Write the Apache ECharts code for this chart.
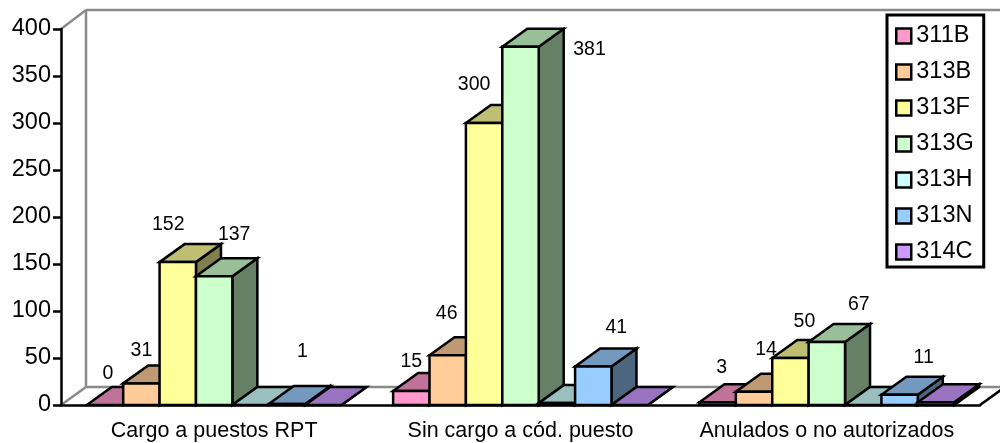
<!DOCTYPE html>
<html>
<head>
<meta charset="utf-8">
<style>html,body{margin:0;padding:0;background:#fff}#c{width:1000px;height:443px}</style>
<script src="https://cdn.jsdelivr.net/npm/echarts@6/dist/echarts.min.js"></script>
</head>
<body>
<div id="c"></div>
<script>
var categories = ['Cargo a puestos RPT', 'Sin cargo a cód. puesto', 'Anulados o no autorizados'];
// Bar heights as drawn in the picture
var s311B = [0, 15, 3];
var s313B = [23, 53, 14];
var s313F = [152, 300, 50];
var s313G = [137, 381, 67];
var s313H = [0, 2, 0];
var s313N = [1, 41, 11];
var s314C = [0, 0, 3];
// Data labels as printed in the picture ('' = none printed)
var l311B = ['0', '15', '3'];
var l313B = ['31', '46', '14'];
var l313F = ['152', '300', '50'];
var l313G = ['137', '381', '67'];
var l313H = ['', '', ''];
var l313N = ['1', '41', '11'];
var l314C = ['', '', ''];
var seriesNames = ['311B', '313B', '313F', '313G', '313H', '313N', '314C'];
var seriesValues = [s311B, s313B, s313F, s313G, s313H, s313N, s314C];
var seriesLabels = [l311B, l313B, l313F, l313G, l313H, l313N, l314C];
var seriesColors = [[255,153,204],[255,204,153],[255,255,153],[204,255,204],[204,255,255],[153,204,255],[204,153,255]];

// Style only: where the original chart nudged each data label, from the bar's top-front centre
var labelNudges = [
  [[3,-31],[0,-29],[4,-35]],
  [[0,-33],[-1,-42],[12,-42]],
  [[-9.5,-37],[-10,-38],[14,-36]],
  [[20,-42],[69,3],[32,-37]],
  [[0,0],[0,0],[0,0]],
  [[15.5,-52],[23,-39],[24,-37]],
  [[0,0],[0,0],[0,0]]
];

var DX = 25, DY = -18, BAND_FRACTION = 0.1188, LW = 2.5;
var FONT = '"Liberation Sans", Arial, sans-serif';

function shade(c, f) {
  return 'rgb(' + c.map(function (v) { return Math.round(v * f); }).join(',') + ')';
}
function poly(points, fill) {
  return {type: 'polygon', shape: {points: points},
    style: {fill: fill, stroke: '#000', lineWidth: LW, lineJoin: 'miter'}};
}
function line(x1, y1, x2, y2, color) {
  return {type: 'line', shape: {x1: x1, y1: y1, x2: x2, y2: y2},
    style: {stroke: color, lineWidth: LW, fill: null}};
}

function renderWalls(params) {
  var c = params.coordSys;
  var L = c.x, T = c.y, R = c.x + c.width, B = c.y + c.height;
  var G = '#8a8a8a';
  return {type: 'group', silent: true, children: [
    line(L, T, L + DX, T + DY - 1, G),
    line(L + DX, T + DY - 1, 1000, T + DY - 1, G),
    line(L + DX, T + DY - 1, L + DX, B + DY, G),
    line(L, B, L + DX, B + DY, G),
    line(L + DX, B + DY, 1000, B + DY, G),
    line(R, B, R + DX, B + DY, '#000')
  ]};
}

function makeBarRenderer(si) {
  return function (params, api) {
    var cat = api.value(0), val = api.value(1);
    var band = api.size([1, 0])[0];
    var w = band * BAND_FRACTION;
    var centre = api.coord([cat, 0])[0];
    var x0 = centre + (si - 3.5) * w;
    var x1 = x0 + w;
    var yb = api.coord([cat, 0])[1];
    var yt = api.coord([cat, val])[1];
    var col = seriesColors[si];
    var kids = [];
    kids.push(poly([[x1, yb], [x1 + DX, yb + DY], [x1 + DX, yt + DY], [x1, yt]], shade(col, 0.5)));
    kids.push(poly([[x0, yt], [x0 + DX, yt + DY], [x1 + DX, yt + DY], [x1, yt]], shade(col, 0.75)));
    if (val > 0) kids.push(poly([[x0, yb], [x1, yb], [x1, yt], [x0, yt]], shade(col, 1)));
    var text = seriesLabels[si][cat], n = labelNudges[si][cat];
    if (text) {
      kids.push({type: 'text', z2: 100, style: {
        x: (x0 + x1) / 2 + n[0], y: yt + n[1], text: text,
        fill: '#000', font: '19.5px ' + FONT, textAlign: 'center', textVerticalAlign: 'middle'
      }});
    }
    return {type: 'group', children: kids};
  };
}

var series = [{
  type: 'custom', name: 'walls', silent: true, z: 1,
  data: [[0, 0]], encode: {x: 0, y: 1}, renderItem: renderWalls
}];
seriesNames.forEach(function (name, si) {
  series.push({
    type: 'custom', name: name, z: 3 + si,
    itemStyle: {color: shade(seriesColors[si], 1)},
    encode: {x: 0, y: 1},
    data: seriesValues[si].map(function (v, i) { return [i, v]; }),
    renderItem: makeBarRenderer(si)
  });
});

var chart = echarts.init(document.getElementById('c'), null, {renderer: 'canvas'});
chart.setOption({
  animation: false,
  backgroundColor: '#fff',
  grid: {left: 61, top: 29, right: 20, bottom: 38, containLabel: false},
  xAxis: {
    type: 'category', data: categories, z: 2,
    axisLine: {lineStyle: {color: '#000', width: LW}},
    axisTick: {length: 7, lineStyle: {color: '#000', width: LW}},
    axisLabel: {color: '#000', fontSize: 21.5, fontFamily: FONT, margin: 15, interval: 0}
  },
  yAxis: {
    type: 'value', min: 0, max: 400, interval: 50, z: 2,
    axisLine: {show: true, lineStyle: {color: '#000', width: LW}},
    axisTick: {show: true, length: 8, lineStyle: {color: '#000', width: LW}},
    axisLabel: {color: '#000', fontSize: 23.5, fontFamily: FONT, margin: 10},
    splitLine: {show: false}
  },
  legend: {
    show: true, orient: 'vertical', left: 887, top: 15, width: 96,
    data: seriesNames,
    backgroundColor: '#fff', borderColor: '#000', borderWidth: 3,
    padding: [8, 10, 2, 8],
    itemWidth: 15, itemHeight: 15, itemGap: 10, icon: 'rect',
    itemStyle: {borderColor: '#000', borderWidth: 2.5},
    textStyle: {color: '#000', fontSize: 23.5, fontFamily: FONT, lineHeight: 26},
    selectedMode: false
  },
  series: series
});
</script>
</body>
</html>
